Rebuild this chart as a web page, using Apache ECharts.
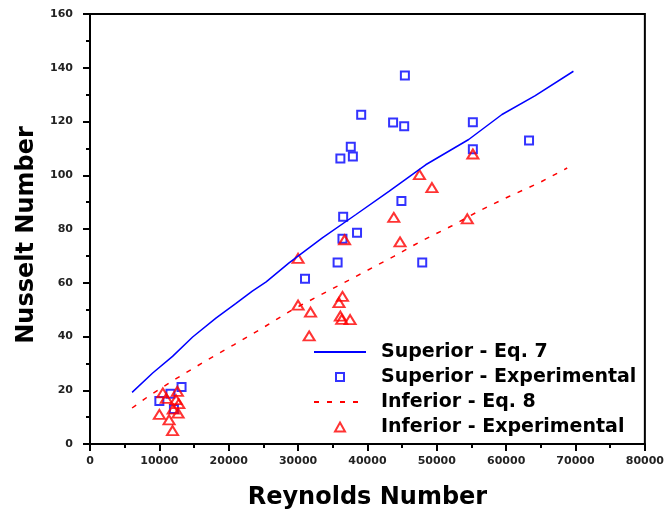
<!DOCTYPE html>
<html>
<head>
<meta charset="utf-8">
<script src="https://cdn.jsdelivr.net/npm/echarts@6/dist/echarts.min.js"></script>
<style>
html, body { margin: 0; padding: 0; background: #fff; }
#main { width: 667px; height: 519px; }
</style>
</head>
<body>
<div id="main"></div>
<script>
var dom = document.getElementById("main");
var myChart = echarts.init(dom);

// Superior - Eq. 7
var supEqRe = [6070, 9040, 11900, 14800, 18200, 21000, 23400, 25400, 28700, 33500, 38300, 43100, 48400, 54600, 59400, 64200, 69700];
var supEqNu = [19.2, 26.4, 32.6, 39.8, 46.9, 52.2, 56.9, 60.3, 67.4, 76.7, 85.3, 94, 103.9, 113.3, 122.6, 129.6, 138.7];

// Inferior - Eq. 8
var infEqRe = [6070, 8560, 12600, 17000, 20800, 25100, 29200, 39700, 43800, 47900, 52200, 56000, 60400, 64700, 68800];
var infEqNu = [13.4, 18, 24.6, 31.4, 37, 43.5, 50, 64.2, 69.8, 75.7, 81.2, 86.6, 92.1, 97.1, 102.7];

// Superior - Experimental
var supExpRe = [10000, 11600, 12100, 13200, 31000, 35700, 36100, 36400, 36500, 37600, 37900, 38500, 39100, 43700, 44900, 45300, 45400, 47900, 55200, 55200, 63300];
var supExpNu = [16, 18.7, 13, 21.2, 61.5, 67.5, 106.2, 76.4, 84.6, 110.6, 107, 78.6, 122.5, 119.6, 90.4, 118.2, 137.1, 67.5, 119.7, 109.7, 112.9];

// Inferior - Experimental
var infExpRe = [10000, 10500, 11000, 11400, 11900, 12000, 12400, 12600, 12700, 12800, 30000, 30000, 31600, 31800, 35900, 36100, 36300, 36400, 36700, 37500, 43800, 44700, 47500, 49300, 54400, 55200];
var infExpNu = [11, 19, 17, 9, 5, 13, 16.5, 19.6, 11.5, 15, 69.1, 51.7, 40.2, 49.1, 52.6, 47.6, 46.4, 54.9, 76, 46.3, 84.3, 75.2, 100.2, 95.4, 83.8, 107.9];

var seriesNames = ["Superior - Eq. 7", "Superior - Experimental", "Inferior - Eq. 8", "Inferior - Experimental"];

function pairs(xs, ys) {
    var out = [];
    for (var i = 0; i < xs.length; i++) out.push([xs[i], ys[i]]);
    return out;
}

var labelFont = { fontFamily: "DejaVu Sans", fontWeight: "bold", fontSize: 11, color: "#222" };
var titleFont = { fontFamily: "DejaVu Sans", fontWeight: "bold", fontSize: 24, color: "#000" };
var noSymbol = { color: "rgba(0,0,0,0)", borderWidth: 0, opacity: 0 };

// one legend per row so line icons and marker icons can have their own sizes
function legendRow(i, isLine) {
    var iw = isLine ? 52 : (i === 1 ? 8 : 10);
    var ih = isLine ? 8 : (i === 1 ? 8 : 9);
    var left = 308 + (52 - iw) / 2;
    var pad = 10 + (52 - iw) / 2;
    return {
        orient: "vertical",
        left: left, top: 337 + i * 25,
        itemWidth: iw, itemHeight: ih,
        textStyle: { fontFamily: "DejaVu Sans", fontWeight: "bold", fontSize: 19, color: "#000", lineHeight: 20, padding: [0, 0, 0, pad] },
        data: [isLine ? { name: seriesNames[i], itemStyle: noSymbol } : { name: seriesNames[i] }]
    };
}

var option = {
    backgroundColor: "#fff",
    animation: false,
    grid: {
        left: 90, right: 20, top: 14, bottom: 75,
        show: true, borderColor: "#000", borderWidth: 2
    },
    legend: [legendRow(0, true), legendRow(1, false), legendRow(2, true), legendRow(3, false)],
    xAxis: {
        type: "value", min: 0, max: 80000, interval: 10000,
        name: "Reynolds Number", nameLocation: "middle", nameGap: 42, nameTextStyle: titleFont,
        axisLine: { show: true, lineStyle: { color: "#000", width: 2 } },
        axisTick: { show: true, length: 7, lineStyle: { color: "#000", width: 2 } },
        minorTick: { show: true, splitNumber: 2, length: 4, lineStyle: { color: "#000", width: 2 } },
        axisLabel: Object.assign({ margin: 12, formatter: function (v) { return String(v); } }, labelFont),
        splitLine: { show: false }
    },
    yAxis: {
        type: "value", min: 0, max: 160, interval: 20,
        name: "Nusselt Number", nameLocation: "middle", nameGap: 48,
        nameTextStyle: Object.assign({ padding: [0, 12, 0, 0] }, titleFont),
        axisLine: { show: true, lineStyle: { color: "#000", width: 2 } },
        axisTick: { show: true, length: 7, lineStyle: { color: "#000", width: 2 } },
        minorTick: { show: true, splitNumber: 2, length: 4, lineStyle: { color: "#000", width: 2 } },
        axisLabel: Object.assign({ margin: 17 }, labelFont),
        splitLine: { show: false }
    },
    series: [
        {
            name: seriesNames[0], type: "line", showSymbol: false, symbol: "none",
            data: pairs(supEqRe, supEqNu),
            lineStyle: { color: "#0000ff", width: 1.5 },
            itemStyle: { color: "#0000ff" }
        },
        {
            name: seriesNames[1], type: "scatter", symbol: "rect", symbolSize: 8,
            data: pairs(supExpRe, supExpNu),
            itemStyle: { color: "rgba(255,255,255,0)", borderColor: "#0000ff", borderWidth: 2 }
        },
        {
            name: seriesNames[2], type: "line", showSymbol: false, symbol: "none",
            data: pairs(infEqRe, infEqNu),
            lineStyle: { color: "#ff0000", width: 1.5, type: [5, 8] },
            itemStyle: { color: "#ff0000" }
        },
        {
            name: seriesNames[3], type: "scatter", symbol: "triangle", symbolSize: [11, 9],
            data: pairs(infExpRe, infExpNu),
            itemStyle: { color: "rgba(255,255,255,0)", borderColor: "#ff0000", borderWidth: 2 }
        }
    ]
};

if (option && typeof option === "object") {
    myChart.setOption(option, true);
}
</script>
</body>
</html>
